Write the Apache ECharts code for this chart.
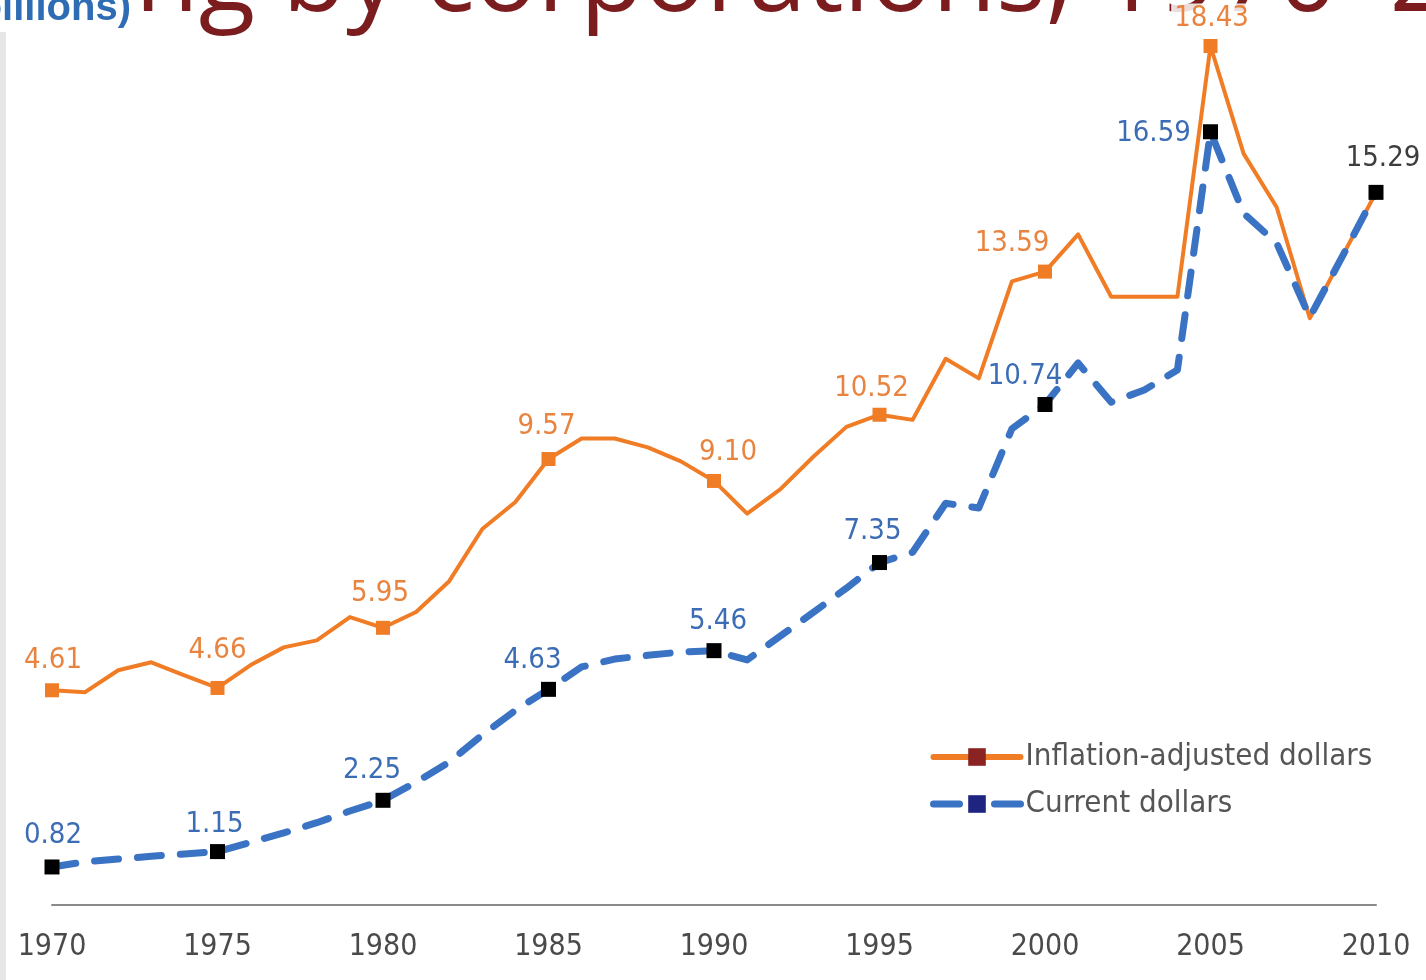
<!DOCTYPE html>
<html>
<head>
<meta charset="utf-8">
<script src="https://cdn.jsdelivr.net/npm/echarts@6/dist/echarts.min.js"></script>
<style>
  html, body { margin: 0; padding: 0; background: #ffffff; }
  #chart { width: 1426px; height: 980px; }
</style>
</head>
<body>
<div id="chart"></div>
<script>
// Spending by corporations, 1970-2010 ($ billions)
const years = [1970, 1971, 1972, 1973, 1974, 1975, 1976, 1977, 1978, 1979,
               1980, 1981, 1982, 1983, 1984, 1985, 1986, 1987, 1988, 1989,
               1990, 1991, 1992, 1993, 1994, 1995, 1996, 1997, 1998, 1999,
               2000, 2001, 2002, 2003, 2004, 2005, 2006, 2007, 2008, 2009, 2010];

const inflationAdjusted = [4.61, 4.57, 5.04, 5.21, 4.93, 4.66, 5.15, 5.53, 5.68, 6.18,
                           5.95, 6.29, 6.95, 8.07, 8.65, 9.57, 10.01, 10.01, 9.82, 9.52,
                           9.10, 8.40, 8.92, 9.62, 10.26, 10.52, 10.41, 11.72, 11.30, 13.38,
                           13.59, 14.39, 13.05, 13.05, 13.05, 18.43, 16.12, 14.97, 12.59, 13.94, 15.29];

const currentDollars = [0.82, 0.93, 0.99, 1.05, 1.10, 1.15, 1.35, 1.55, 1.77, 2.02,
                        2.25, 2.64, 3.07, 3.65, 4.18, 4.63, 5.11, 5.28, 5.36, 5.43,
                        5.46, 5.26, 5.77, 6.28, 6.80, 7.35, 7.57, 8.62, 8.52, 10.22,
                        10.74, 11.63, 10.79, 11.05, 11.48, 16.59, 14.84, 14.20, 12.61, 13.94, 15.29];

const seriesNames = ['Inflation-adjusted dollars', 'Current dollars'];

// label placement around the five-year markers (pixel offsets from marker centre)
const inflLabelOffset = {1970: [1, -30], 1975: [0, -37], 1980: [-3, -34], 1985: [-2, -33],
                         1990: [14, -28], 1995: [-8, -26], 2000: [-33, -28], 2005: [1, -28]};
const currLabelOffset = {1970: [1, -32], 1975: [-3, -27], 1980: [-11, -30], 1985: [-16, -29],
                         1990: [4, -29], 1995: [-7, -31], 2000: [-20, -28], 2005: [-57, 2], 2010: [7, -34]};

const NARROW = '"DejaVu Sans Condensed", "Liberation Sans Narrow", sans-serif';
const ORANGE = '#f07d26';
const BLUE = '#3a72c4';

function markerData(values, offsets, color) {
  const out = [];
  years.forEach((y, i) => {
    if (offsets[y]) {
      out.push({
        value: [String(y), values[i]],
        label: { offset: offsets[y], color: color }
      });
    }
  });
  return out;
}

const inflMarkers = markerData(inflationAdjusted, inflLabelOffset, '#e8843f');
// the 2005 peak label sits on a white patch where it meets the heading
inflMarkers.forEach(d => {
  if (d.value[0] === '2005') {
    d.label.backgroundColor = 'rgba(255,255,255,0.85)';
    d.label.padding = [0, 3, 0, 3];
  }
});
const currMarkers = markerData(currentDollars, currLabelOffset, '#3b6cb4');
currMarkers.forEach(d => { if (d.value[0] === '2010') d.label.color = '#3d3d3d'; });

const chart = echarts.init(document.getElementById('chart'), null, { renderer: 'canvas' });

const option = {
  backgroundColor: '#ffffff',
  animation: false,
  grid: { left: 52, right: 50, top: 19.4, bottom: 74.8, containLabel: false },
  xAxis: {
    type: 'category',
    data: years.map(String),
    boundaryGap: false,
    axisLine: { lineStyle: { color: '#8a8a8a', width: 2 } },
    axisTick: { show: false },
    axisLabel: {
      interval: (idx, val) => Number(val) % 5 === 0,
      margin: 27,
      fontFamily: NARROW,
      fontSize: 30,
      color: '#4a4a4a'
    },
    splitLine: { show: false }
  },
  yAxis: {
    type: 'value',
    min: 0,
    max: 19,
    show: false,
    splitLine: { show: false }
  },
  legend: {
    orient: 'vertical',
    left: 925,
    top: 734,
    itemWidth: 87,
    itemHeight: 22,
    itemGap: 11,
    textStyle: { fontFamily: NARROW, fontSize: 31, lineHeight: 36, color: '#555555' },
    data: [
      { name: seriesNames[0], itemStyle: { color: '#8b2323' },
        lineStyle: { width: 6, color: ORANGE, cap: 'round' } },
      { name: seriesNames[1], itemStyle: { color: '#1f2480' },
        lineStyle: { width: 7, color: BLUE, type: [26, 35], cap: 'round' } }
    ]
  },
  series: [
    {
      name: seriesNames[0],
      type: 'line',
      data: inflationAdjusted,
      symbol: 'rect',
      showSymbol: false,
      lineStyle: { color: ORANGE, width: 4, join: 'round' },
      itemStyle: { color: ORANGE },
      z: 2
    },
    {
      name: seriesNames[1],
      type: 'line',
      data: currentDollars,
      symbol: 'rect',
      showSymbol: false,
      lineStyle: { color: BLUE, width: 7, type: [24, 19], cap: 'round', join: 'round' },
      itemStyle: { color: BLUE },
      z: 3
    },
    {
      name: 'infl-markers',
      type: 'scatter',
      symbol: 'rect',
      symbolSize: 14,
      itemStyle: { color: ORANGE, opacity: 1 },
      label: {
        show: true,
        position: 'inside',
        fontFamily: NARROW,
        fontSize: 29,
        formatter: p => p.value[1].toFixed(2)
      },
      data: inflMarkers,
      z: 4
    },
    {
      name: 'curr-markers',
      type: 'scatter',
      symbol: 'rect',
      symbolSize: 15,
      itemStyle: { color: '#000000', opacity: 1 },
      label: {
        show: true,
        position: 'inside',
        fontFamily: NARROW,
        fontSize: 29,
        formatter: p => p.value[1].toFixed(2)
      },
      data: currMarkers,
      z: 5
    }
  ],
  graphic: [
    { type: 'rect', left: 0, top: 32, shape: { width: 6, height: 948 }, style: { fill: '#e6e6e6' }, z: -10 },
    {
      type: 'text', x: 135, y: -19, z: -5,
      style: {
        text: 'ng by corporations, 1970–2010',
        font: '500 104px "Open Sans", "Noto Sans", sans-serif',
        fill: '#7b1c1e',
        verticalAlign: 'middle',
        align: 'left'
      }
    },
    {
      type: 'text', x: 131, y: 9, z: -5,
      style: {
        text: '($ billions)',
        font: 'bold 40px "Liberation Sans", Arial, sans-serif',
        fill: '#2e6db4',
        verticalAlign: 'middle',
        align: 'right'
      }
    }
  ]
};

chart.setOption(option);
</script>
</body>
</html>
